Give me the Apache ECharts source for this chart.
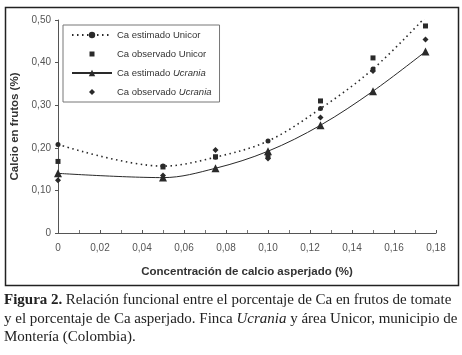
<!DOCTYPE html>
<html><head><meta charset="utf-8">
<script src="https://cdn.jsdelivr.net/npm/echarts@6/dist/echarts.min.js"></script>
<style>html,body{margin:0;padding:0;background:#fff}#c{width:462px;height:355px}</style>
</head><body><div id="c"></div>
<script>
const xValues = [0, 0.05, 0.075, 0.10, 0.125, 0.15, 0.175];
const estUnicor = [0.208, 0.157, 0.178, 0.216, 0.292, 0.385, 0.507];
const obsUnicor = [0.168, 0.155, 0.179, 0.180, 0.310, 0.411, 0.486];
const estUcrania = [0.140, 0.130, 0.152, 0.192, 0.253, 0.333, 0.426];
const obsUcrania = [0.124, 0.135, 0.195, 0.175, 0.271, 0.380, 0.454];
const seriesNames = ['Ca estimado Unicor', 'Ca observado Unicor', 'Ca estimado Ucrania', 'Ca observado Ucrania'];
const xTicks = [0, 0.02, 0.04, 0.06, 0.08, 0.10, 0.12, 0.14, 0.16, 0.18];
const yTicks = [0, 0.10, 0.20, 0.30, 0.40, 0.50];

const pair = arr => xValues.map((x, i) => [x, arr[i]]);
const fmt = v => v === 0 ? '0' : v.toFixed(2).replace('.', ',');
const ink = '#2a2a2a';
const capFont = 'Liberation Serif';
const capSize = 15;

const chart = echarts.init(document.getElementById('c'), null, {renderer: 'canvas'});
chart.setOption({
  animation: false,
  backgroundColor: '#fff',
  grid: {left: 58, right: 26, top: 20, bottom: 122, containLabel: false},
  xAxis: {
    type: 'value', min: 0, max: 0.18, interval: 0.02,
    axisLine: {lineStyle: {color: '#555', width: 1}},
    axisTick: {show: true, inside: true, length: 3, lineStyle: {color: '#555'}},
    minorTick: {show: true, splitNumber: 2, length: 3, lineStyle: {color: '#777'}},
    splitLine: {show: false},
    axisLabel: {formatter: fmt, color: '#555', fontSize: 10, fontFamily: 'Liberation Sans', margin: 10},
    name: 'Concentración de calcio asperjado (%)', nameLocation: 'middle', nameGap: 33,
    nameTextStyle: {fontWeight: 'bold', fontSize: 11.5, color: '#333', fontFamily: 'Liberation Sans'}
  },
  yAxis: {
    type: 'value', min: 0, max: 0.5, interval: 0.1,
    axisLine: {show: true, lineStyle: {color: '#555', width: 1}},
    axisTick: {show: true, length: 3, lineStyle: {color: '#555'}},
    splitLine: {show: false},
    axisLabel: {formatter: fmt, color: '#555', fontSize: 10, fontFamily: 'Liberation Sans', margin: 7},
    name: 'Calcio en frutos (%)', nameLocation: 'middle', nameGap: 37, nameRotate: 90,
    nameTextStyle: {fontWeight: 'bold', fontSize: 11.5, color: '#333', fontFamily: 'Liberation Sans'}
  },
  legend: {
    orient: 'vertical', left: 63, top: 25,
    padding: [5, 8, 5, 8], itemGap: 9, itemWidth: 40, itemHeight: 8,
    borderColor: '#777', borderWidth: 1, backgroundColor: '#fff',
    data: [
      {name: seriesNames[0]},
      {name: seriesNames[1], icon: 'path://M0,0M8,8M1.5,1.5h5v5h-5z', itemStyle: {color: ink}},
      {name: seriesNames[2]},
      {name: seriesNames[3], icon: 'path://M0,0M8,8M4,1L7,4L4,7L1,4z', itemStyle: {color: ink}}
    ],
    formatter: n => n.replace('Ucrania', '{i|Ucrania}'),
    textStyle: {fontSize: 9.5, color: '#333', fontFamily: 'Liberation Sans',
      rich: {i: {fontStyle: 'italic', fontSize: 9.5, color: '#333', fontFamily: 'Liberation Sans'}}}
  },
  graphic: [
    {type: 'rect', left: 3, top: 5, shape: {width: 453, height: 278}, style: {fill: 'none', stroke: '#222', lineWidth: 1.5}, z: 0, silent: true},
    {type: 'text', left: 4, top: 293, style: {rich: {b: {fontWeight: 'bold', fontSize: capSize, fontFamily: capFont, fill: '#222'}, n: {fontSize: capSize, fontFamily: capFont, fill: '#222'}}, text: '{b|Figura 2.} {n|Relación funcional entre el porcentaje de Ca en frutos de tomate}'}},
    {type: 'text', left: 4, top: 311.5, style: {rich: {i: {fontStyle: 'italic', fontSize: capSize, fontFamily: capFont, fill: '#222'}, n: {fontSize: capSize, fontFamily: capFont, fill: '#222'}}, text: '{n|y el porcentaje de Ca asperjado. Finca }{i|Ucrania}{n| y área Unicor, municipio de}'}},
    {type: 'text', left: 4, top: 330, style: {text: 'Montería (Colombia).', fontSize: capSize, fontFamily: capFont, fill: '#222'}}
  ],
  series: [
    {name: seriesNames[0], type: 'line', data: pair(estUnicor), smooth: 0.35,
     symbol: 'circle', symbolSize: 5, showAllSymbol: true,
     lineStyle: {type: [1.5, 3.5], width: 1.6, color: ink}, itemStyle: {color: ink}, z: 3},
    {name: seriesNames[1], type: 'scatter', data: pair(obsUnicor),
     symbol: 'rect', symbolSize: 5, itemStyle: {color: ink, opacity: 1}, z: 4},
    {name: seriesNames[2], type: 'line', data: pair(estUcrania), smooth: 0.35,
     symbol: 'triangle', symbolSize: 8, showAllSymbol: true,
     lineStyle: {type: 'solid', width: 1, color: ink}, itemStyle: {color: ink}, z: 3},
    {name: seriesNames[3], type: 'scatter', data: pair(obsUcrania),
     symbol: 'diamond', symbolSize: 6, itemStyle: {color: ink, opacity: 1}, z: 4}
  ]
});
</script>
</body></html>
